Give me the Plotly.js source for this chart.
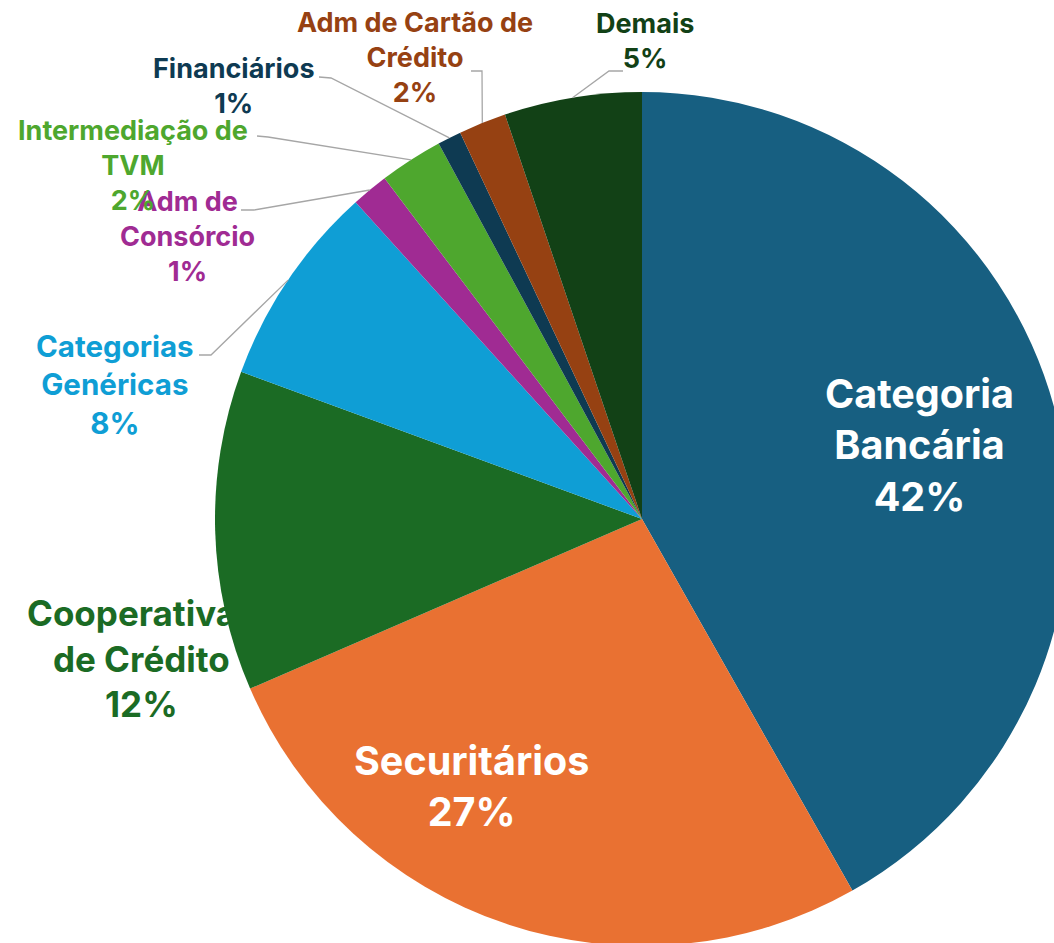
<!DOCTYPE html>
<html>
<head>
<meta charset="utf-8">
<script src="https://cdn.plot.ly/plotly-3.0.1.min.js"></script>
<style>
html,body{margin:0;padding:0;overflow:hidden;background:#fff;}
#chart{width:1100px;height:980px;}
</style>
</head>
<body>
<div id="chart"></div>
<script>
// ---- data ----
const categories = ["Categoria Bancária","Securitários","Cooperativas de Crédito","Categorias Genéricas","Adm de Consórcio","Intermediação de TVM","Financiários","Adm de Cartão de Crédito","Demais"];
const labelLines = [["Categoria","Bancária"],["Securitários"],["Cooperativas","de Crédito"],["Categorias","Genéricas"],["Adm de","Consórcio"],["Intermediação de","TVM"],["Financiários"],["Adm de Cartão de","Crédito"],["Demais"]];
const shares = [41.8, 26.7, 12.1, 7.7, 1.4, 2.4, 0.9, 1.8, 5.2];
const colors = ["#175F81","#E97132","#1B6B24","#0F9ED5","#A02B93","#4EA72E","#0E3A52","#964112","#124116"];

// ---- layout config (pixels) ----
const W = 1100, H = 980;
const pie = {cx: 642, cy: 519, r: 427};
const FONT = "Inter, Open Sans, Liberation Sans, sans-serif";
// label centre (x, y of block middle), font size, text colour, leader [start, elbow] or null
const labelCfg = [
  {x: 920, y: 445, size: 39.5, color: "#ffffff", leader: null},
  {x: 471, y: 786, size: 39.5, color: "#ffffff", leader: null},
  {x: 141, y: 658, size: 35, color: null, leader: null},
  {x: 115, y: 385, size: 29.5, color: null, leader: [[199,355],[211,355]]},
  {x: 187, y: 236, size: 27, color: null, leader: [[241,210],[254,210]]},
  {x: 133, y: 165, size: 27, color: null, leader: [[257,136],[268,137]]},
  {x: 234, y: 86,  size: 27, color: null, leader: [[319,77],[331,78]]},
  {x: 415, y: 57,  size: 27, color: null, leader: [[471,71],[482,71]]},
  {x: 645, y: 41,  size: 27, color: null, leader: [[623,71],[609,71]]}
];

const px = x => x / W;
const py = y => 1 - y / H;

const total = shares.reduce((a,b)=>a+b,0);
let cum = 0;
const annotations = [], shapes = [];
shares.forEach((v,i) => {
  const mid = (cum + v/2) / total;
  cum += v;
  const th = 2*Math.PI*mid;
  const ex = pie.cx + pie.r*Math.sin(th), ey = pie.cy - pie.r*Math.cos(th);
  const c = labelCfg[i];
  const pct = Math.round(v/total*100) + "%";
  annotations.push({
    xref:"paper", yref:"paper", x:px(c.x), y:py(c.y), xanchor:"center", yanchor:"middle",
    showarrow:false, align:"center",
    text: labelLines[i].concat([pct]).join("<br>"),
    font:{family:FONT, size:c.size, color:c.color || colors[i], weight:700}
  });
  if (c.leader) {
    const [s, e] = c.leader;
    shapes.push({type:"path", xref:"paper", yref:"paper",
      path:`M ${px(s[0])},${py(s[1])} L ${px(e[0])},${py(e[1])} L ${px(ex)},${py(ey)}`,
      line:{color:"#A6A6A6", width:1.3}});
  }
});

const data = [{
  type:"pie",
  labels: categories,
  values: shares,
  sort:false,
  direction:"clockwise",
  rotation:0,
  marker:{colors:colors, line:{width:0}},
  textinfo:"none",
  hoverinfo:"label+percent",
  showlegend:false,
  domain:{x:[px(pie.cx-pie.r), px(pie.cx+pie.r)], y:[py(pie.cy+pie.r), py(pie.cy-pie.r)]}
}];

const layout = {
  width: W, height: H,
  margin:{l:0,r:0,t:0,b:0},
  paper_bgcolor:"#ffffff",
  showlegend:false,
  annotations: annotations,
  shapes: shapes
};
Plotly.newPlot("chart", data, layout, {displayModeBar:false, staticPlot:true});
</script>
</body>
</html>
